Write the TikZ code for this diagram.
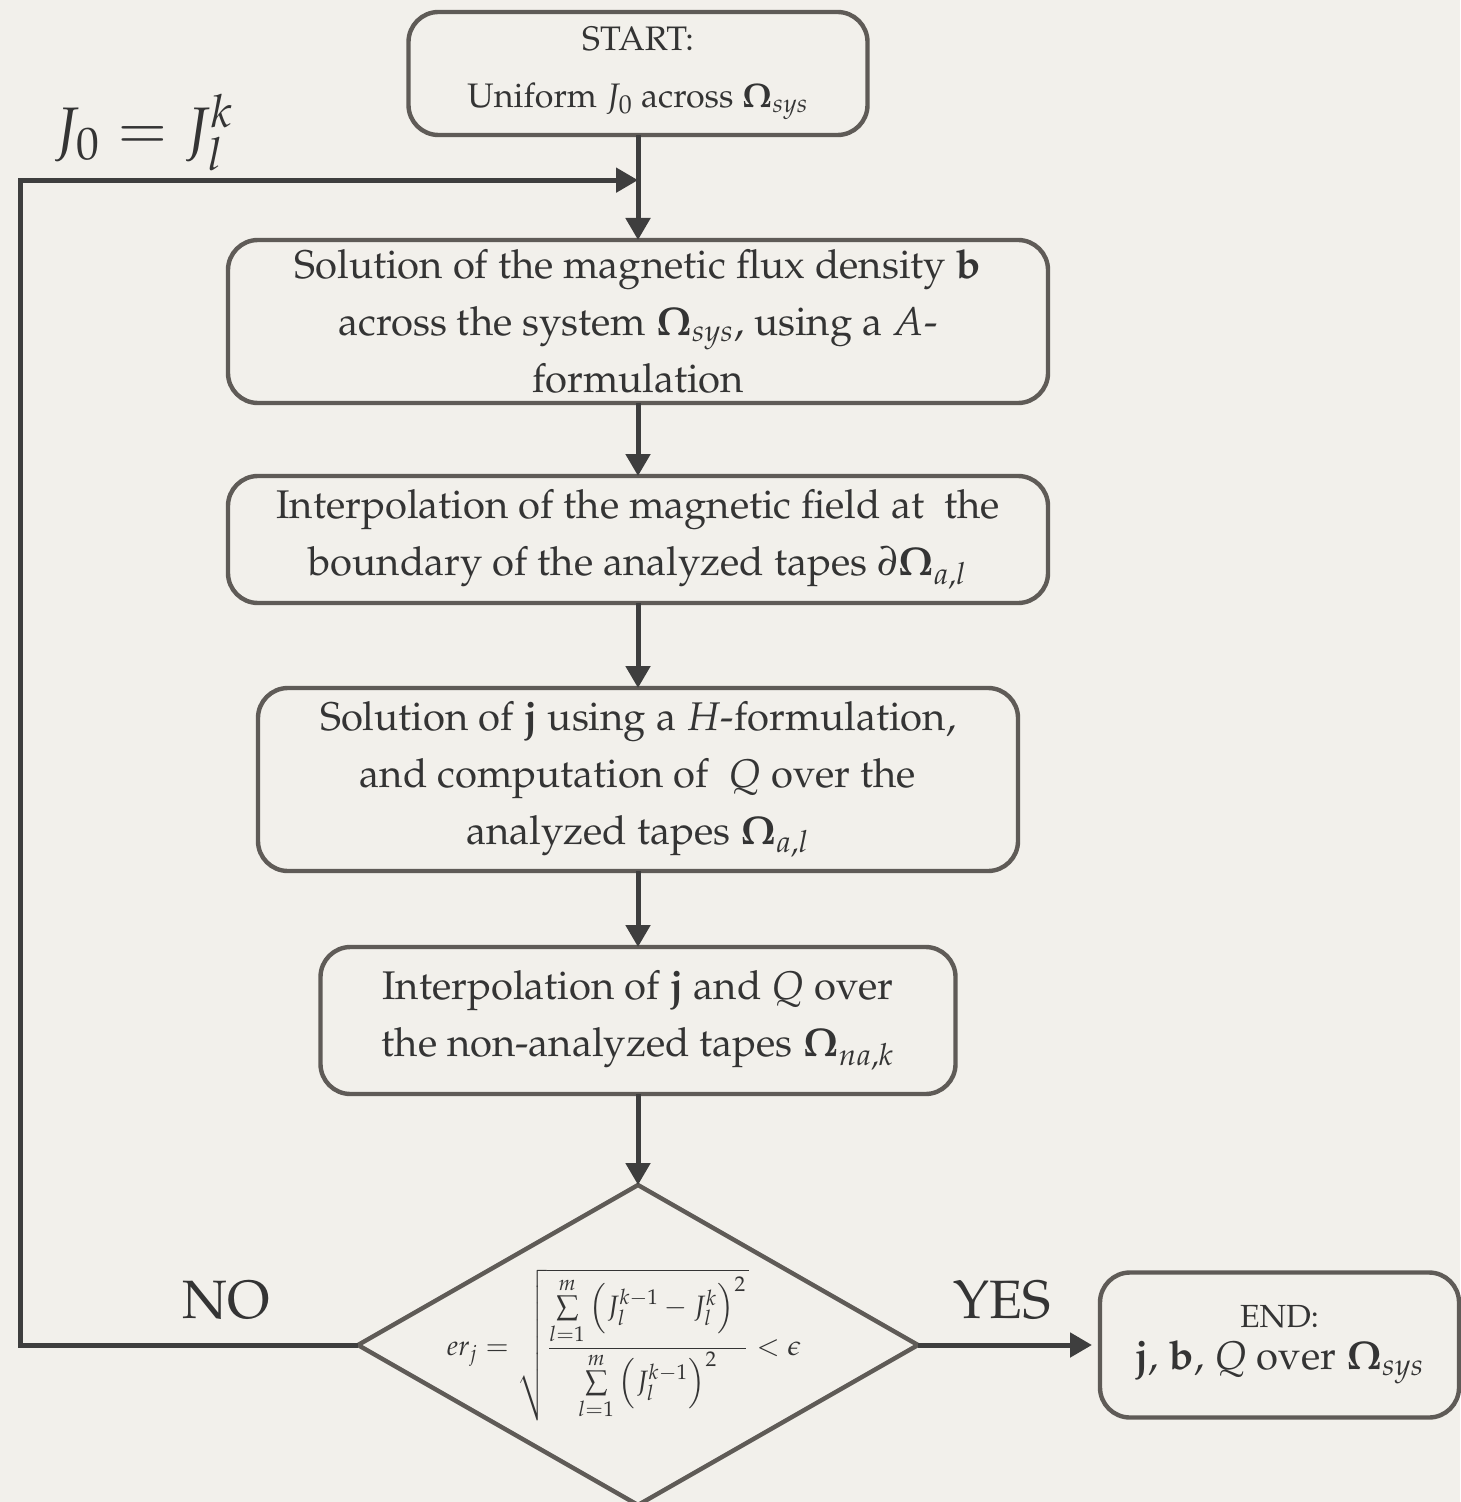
\documentclass[tikz,border=0pt]{standalone}
\usepackage[T1]{fontenc}
\usepackage{mathpazo}
\usepackage{amsmath}
\usepackage{tikz}
\usetikzlibrary{arrows.meta,positioning,shapes.geometric,calc}
\definecolor{paperbg}{RGB}{242,240,235}
\definecolor{boxline}{RGB}{95,91,87}
\definecolor{arrowline}{RGB}{62,62,62}
\definecolor{inktext}{RGB}{52,52,52}

\begin{document}
\begin{tikzpicture}[
  node distance=40pt and 87pt,
  stepbox/.style={draw=boxline, line width=2.2pt, outer sep=0pt, rounded corners=15pt, align=center, text=inktext, inner sep=4pt, font=\fontsize{20}{28.5}\selectfont},
  termbox/.style={stepbox, font=\fontsize{17}{28.5}\selectfont},
  decision/.style={draw=boxline, line width=2.2pt, outer sep=0pt, diamond, inner sep=0pt, minimum width=280pt, minimum height=160pt},
  arrow/.style={-{Triangle[length=11pt,width=12pt]}, draw=arrowline, line width=2.5pt},
  tag/.style={text=inktext, font=\fontsize{27}{32}\selectfont}
]
\path[use as bounding box, fill=paperbg] (0,0) rectangle (730pt,-751pt);

\node[termbox, minimum width=229.5pt, minimum height=61.5pt] (start) at (319pt,-36.75pt) {START:\\Uniform $J_0$ across $\mathbf{\Omega}_{sys}$};
\node[stepbox, minimum width=410pt, minimum height=81.5pt, below=52.5pt of start] (fluxsol) {Solution of the magnetic flux density $\mathbf{b}$\\
across the system $\mathbf{\Omega}_{sys}$, using a $A$-\\
formulation};
\node[stepbox, minimum width=410pt, minimum height=63.5pt, below=36.5pt of fluxsol] (fieldint) {Interpolation of the magnetic field at~ the\\
boundary of the analyzed tapes $\partial\mathbf{\Omega}_{a,l}$};
\node[stepbox, minimum width=380pt, minimum height=91.5pt, below=42.5pt of fieldint] (hsol) {Solution of $\mathbf{j}$ using a $H$-formulation,\\
and computation of~ $Q$ over the\\
analyzed tapes $\mathbf{\Omega}_{a,l}$};
\node[stepbox, minimum width=317.5pt, minimum height=73.5pt, below=38pt of hsol] (jqint) {Interpolation of $\mathbf{j}$ and $Q$ over\\
the non-analyzed tapes $\mathbf{\Omega}_{na,k}$};
\node[decision, below=45.5pt of jqint] (check) {};
\node[text=inktext, font=\fontsize{14}{16}\selectfont] (errtext) at ($(check)+(-7pt,0)$) {$\displaystyle er_j = \sqrt{\frac{\sum\limits_{l=1}^{m}\left(J_l^{k-1}-J_l^{k}\right)^2}{\sum\limits_{l=1}^{m}\left(J_l^{k-1}\right)^2}} < \epsilon$};
\node[stepbox, font=\fontsize{20}{21}\selectfont, minimum width=179.5pt, minimum height=72.5pt, right=91pt of check] (finish) {{\fontsize{16}{21}\selectfont END:}\\
$\mathbf{j}$, $\mathbf{b}$, $Q$ over $\mathbf{\Omega}_{sys}$};

\coordinate (merge) at ($(start.south)!0.43!(fluxsol.north)$);
\coordinate (rail) at (10pt,0);

\draw[arrow] (start) -- (fluxsol);
\draw[arrow] (fluxsol) -- (fieldint);
\draw[arrow] (fieldint) -- (hsol);
\draw[arrow] (hsol) -- (jqint);
\draw[arrow] (jqint) -- (check);
\draw[arrow, shorten >=4pt] (check.east) -- node[tag, pos=0.46, above=8pt]{YES} (finish.west);
\draw[arrow] (check.west) -- node[tag, pos=0.39, above=8pt]{NO} (check.west -| rail) -- (merge -| rail) -- node[tag, pos=0.2, above, font=\fontsize{30}{34}\selectfont]{$J_0 = J_l^k$} (merge);
\end{tikzpicture}
\end{document}
